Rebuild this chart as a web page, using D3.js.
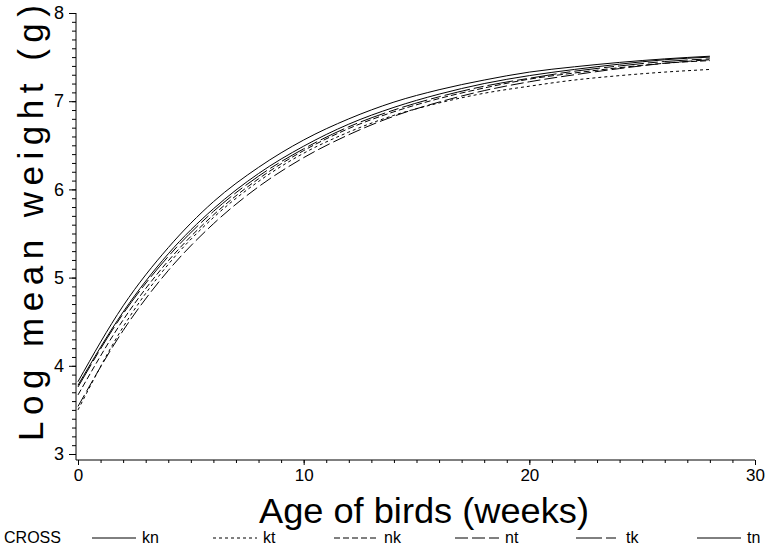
<!DOCTYPE html>
<html>
<head>
<meta charset="utf-8">
<script src="https://cdn.jsdelivr.net/npm/d3@7"></script>
<style>
  body { margin: 0; background: #fff; }
  text { font-family: "Liberation Sans", Arial, sans-serif; fill: #000; }
</style>
</head>
<body>
<svg id="grafico" width="767" height="550"></svg>
<script>
const weeks = [0, 2, 4, 6, 8, 10, 12, 14, 16, 18, 20, 22, 24, 26, 28];

// log mean weight per cross
const kn = [3.78, 4.61, 5.27, 5.78, 6.18, 6.49, 6.74, 6.93, 7.08, 7.20, 7.29, 7.36, 7.42, 7.47, 7.50];
const kt = [3.50, 4.44, 5.15, 5.68, 6.09, 6.41, 6.65, 6.84, 6.98, 7.09, 7.17, 7.24, 7.29, 7.33, 7.36];
const nk = [3.67, 4.52, 5.19, 5.71, 6.12, 6.44, 6.69, 6.88, 7.03, 7.15, 7.25, 7.32, 7.38, 7.43, 7.46];
const nt = [3.54, 4.40, 5.08, 5.61, 6.03, 6.36, 6.62, 6.83, 6.99, 7.12, 7.22, 7.30, 7.37, 7.43, 7.47];
const tk = [3.76, 4.59, 5.24, 5.75, 6.15, 6.46, 6.71, 6.90, 7.05, 7.17, 7.26, 7.34, 7.40, 7.45, 7.48];
const tn = [3.82, 4.68, 5.34, 5.86, 6.25, 6.56, 6.80, 6.99, 7.13, 7.24, 7.33, 7.39, 7.44, 7.48, 7.51];

const crosses = ["kn", "kt", "nk", "nt", "tk", "tn"];
const seriesValues = [kn, kt, nk, nt, tk, tn];
const dashes = [null, "3,3", "6,3", "13,4", "26,4,10,4", null];

const xTicks = [0, 10, 20, 30];
const yTicks = [3, 4, 5, 6, 7, 8];

const svg = d3.select("#grafico");

const x = d3.scaleLinear().domain([0, 30]).range([78, 755]);
const y = d3.scaleLinear().domain([3, 8]).range([454, 13]);

const axisX = 460;   // y position of the x axis
const axisY = 76;    // x position of the y axis

// y axis
svg.append("line")
    .attr("x1", axisY).attr("x2", axisY)
    .attr("y1", y(8)).attr("y2", axisX)
    .attr("stroke", "#000");

const yMinor = d3.range(30, 81).map(d => d / 10);
svg.append("g")
    .attr("transform", `translate(${axisY},0)`)
    .call(d3.axisLeft(y).tickValues(yMinor).tickSize(4).tickFormat(""))
    .call(g => g.select(".domain").remove());

svg.append("g")
    .attr("transform", `translate(${axisY},0)`)
    .call(d3.axisLeft(y).tickValues(yTicks).tickSize(7).tickPadding(5).tickFormat(d3.format("d")))
    .call(g => g.select(".domain").remove())
    .call(g => g.selectAll("text").attr("font-size", 18).attr("font-family", "Liberation Sans, Arial, sans-serif"));

// x axis
svg.append("line")
    .attr("x1", axisY).attr("x2", x(30))
    .attr("y1", axisX).attr("y2", axisX)
    .attr("stroke", "#000");

svg.append("g")
    .attr("transform", `translate(0,${axisX})`)
    .call(d3.axisBottom(x).tickValues(d3.range(0, 31)).tickSize(3).tickFormat(""))
    .call(g => g.select(".domain").remove());

svg.append("g")
    .attr("transform", `translate(0,${axisX})`)
    .call(d3.axisBottom(x).tickValues(xTicks).tickSize(5).tickPadding(4).tickFormat(d3.format("d")))
    .call(g => g.select(".domain").remove())
    .call(g => g.selectAll("text").attr("font-size", 17).attr("font-family", "Liberation Sans, Arial, sans-serif"));

// titles
svg.append("text")
    .attr("x", 424).attr("y", 523)
    .attr("text-anchor", "middle")
    .attr("font-size", 35)
    .attr("textLength", 330)
    .attr("lengthAdjust", "spacingAndGlyphs")
    .text("Age of birds (weeks)");

svg.append("text")
    .attr("transform", "translate(43,441) rotate(-90)")
    .attr("font-size", 35)
    .attr("textLength", 436)
    .attr("lengthAdjust", "spacing")
    .text("Log mean weight (g)");

// curves
const line = d3.line()
    .x((d, i) => x(weeks[i]))
    .y(d => y(d))
    .curve(d3.curveMonotoneX);

seriesValues.forEach((vals, i) => {
    svg.append("path")
        .datum(vals)
        .attr("d", line)
        .attr("fill", "none")
        .attr("stroke", "#000")
        .attr("stroke-width", 1)
        .attr("stroke-dasharray", dashes[i]);
});

// legend
const legend = svg.append("g").attr("transform", "translate(0,543)");
legend.append("text").attr("x", 4).attr("y", 0).attr("font-size", 16)
    .attr("textLength", 57).attr("lengthAdjust", "spacingAndGlyphs").text("CROSS");

const legX = d3.scalePoint().domain(crosses).range([92, 697]);
crosses.forEach((c, i) => {
    legend.append("line")
        .attr("x1", legX(c)).attr("x2", legX(c) + 44)
        .attr("y1", -5).attr("y2", -5)
        .attr("stroke", "#000")
        .attr("stroke-dasharray", dashes[i]);
    legend.append("text")
        .attr("x", legX(c) + 50).attr("y", 0)
        .attr("font-size", 16)
        .text(c);
});
</script>
</body>
</html>
